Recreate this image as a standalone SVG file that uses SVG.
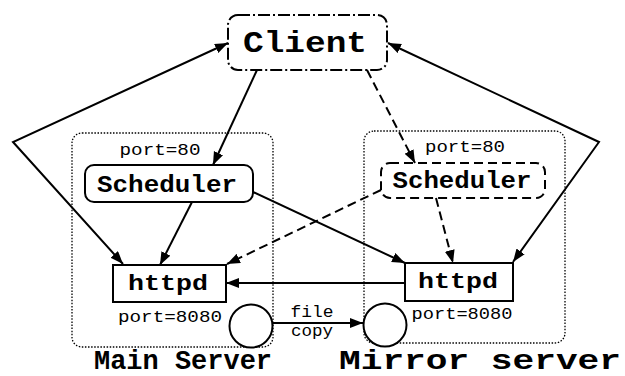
<svg xmlns="http://www.w3.org/2000/svg" width="625" height="376" viewBox="0 0 625 376">
<style>
.mono{font-family:"Liberation Mono","DejaVu Sans Mono",monospace;fill:#000}
.b{font-weight:bold}
.cont{fill:none;stroke:#000;stroke-width:1.3;stroke-dasharray:1.5 1.6}
.box{fill:#fff;stroke:#000;stroke-width:2}
.dbox{fill:#fff;stroke:#000;stroke-width:2;stroke-dasharray:9 5}
.cbox{fill:#fff;stroke:#000;stroke-width:2;stroke-dasharray:12 3 2 3}
.ln{fill:none;stroke:#000;stroke-width:2}
.dl{fill:none;stroke:#000;stroke-width:2;stroke-dasharray:9 5}
</style>
<defs>
<marker id="ah" markerUnits="userSpaceOnUse" markerWidth="14" markerHeight="12" refX="13" refY="5" orient="auto">
<path d="M0,0 L13,5 L0,10 Z" fill="#000"/>
</marker>
<marker id="ahs" markerUnits="userSpaceOnUse" markerWidth="14" markerHeight="12" refX="13" refY="5" orient="auto-start-reverse">
<path d="M0,0 L13,5 L0,10 Z" fill="#000"/>
</marker>
</defs>
<g id="main-server">
<rect class="cont" x="72" y="133" width="201" height="214" rx="10"/>
<text class="mono b" x="183" y="369" font-size="28" text-anchor="middle" textLength="178" lengthAdjust="spacingAndGlyphs">Main Server</text>
</g>
<g id="mirror-server">
<rect class="cont" x="364" y="131" width="201" height="212" rx="10"/>
<text class="mono b" x="480" y="369" font-size="28" text-anchor="middle" textLength="282" lengthAdjust="spacingAndGlyphs">Mirror server</text>
</g>
<g id="client">
<rect class="cbox" x="228" y="15" width="159" height="55" rx="10"/>
<text class="mono b" x="305" y="52" font-size="29" text-anchor="middle" textLength="124" lengthAdjust="spacingAndGlyphs">Client</text>
</g>
<g id="scheduler-main">
<text class="mono" x="160" y="155" font-size="17" text-anchor="middle" textLength="81" lengthAdjust="spacingAndGlyphs">port=80</text>
<rect class="box" x="85" y="165" width="168" height="37" rx="9"/>
<text class="mono b" x="167" y="192" font-size="23" text-anchor="middle" textLength="140" lengthAdjust="spacingAndGlyphs">Scheduler</text>
</g>
<g id="scheduler-mirror">
<text class="mono" x="465" y="152" font-size="17" text-anchor="middle" textLength="80" lengthAdjust="spacingAndGlyphs">port=80</text>
<rect class="dbox" x="381" y="163" width="164" height="35" rx="9"/>
<text class="mono b" x="462" y="188" font-size="23" text-anchor="middle" textLength="139" lengthAdjust="spacingAndGlyphs">Scheduler</text>
</g>
<g id="httpd-main">
<rect class="box" x="113" y="265" width="113" height="37"/>
<text class="mono b" x="168" y="290" font-size="22" text-anchor="middle" textLength="80" lengthAdjust="spacingAndGlyphs">httpd</text>
<text class="mono" x="170" y="322" font-size="17" text-anchor="middle" textLength="104" lengthAdjust="spacingAndGlyphs">port=8080</text>
</g>
<g id="httpd-mirror">
<rect class="box" x="405" y="263" width="108" height="38"/>
<text class="mono b" x="458" y="288" font-size="22" text-anchor="middle" textLength="80" lengthAdjust="spacingAndGlyphs">httpd</text>
<text class="mono" x="462" y="319" font-size="17" text-anchor="middle" textLength="101" lengthAdjust="spacingAndGlyphs">port=8080</text>
</g>
<g id="store-main">
<circle class="box" cx="251" cy="326" r="21.5"/>
</g>
<g id="store-mirror">
<circle class="box" cx="385" cy="325" r="21.5"/>
</g>
<g id="connectors">
<polyline class="ln" points="228,43 13,142 123,264" marker-start="url(#ahs)" marker-end="url(#ah)"/>
<polyline class="ln" points="388,43 599,142 513,262" marker-start="url(#ahs)" marker-end="url(#ah)"/>
<line class="ln" x1="257" y1="70" x2="213" y2="165" marker-end="url(#ah)"/>
<line class="dl" x1="367" y1="70" x2="415" y2="163" marker-end="url(#ah)"/>
<line class="ln" x1="192" y1="202" x2="160" y2="265" marker-end="url(#ah)"/>
<line class="ln" x1="253" y1="192" x2="405" y2="263" marker-end="url(#ah)"/>
<line class="dl" x1="381" y1="190" x2="227" y2="264" marker-end="url(#ah)"/>
<line class="dl" x1="436" y1="198" x2="453" y2="263" marker-end="url(#ah)"/>
<line class="ln" x1="405" y1="283" x2="226" y2="283" marker-end="url(#ah)"/>
<line class="ln" x1="273" y1="323" x2="363" y2="323" marker-end="url(#ah)"/>
<text class="mono" x="312" y="317" font-size="16" text-anchor="middle" textLength="43" lengthAdjust="spacingAndGlyphs">file</text>
<text class="mono" x="312" y="336" font-size="16" text-anchor="middle" textLength="42" lengthAdjust="spacingAndGlyphs">copy</text>
</g>
</svg>
